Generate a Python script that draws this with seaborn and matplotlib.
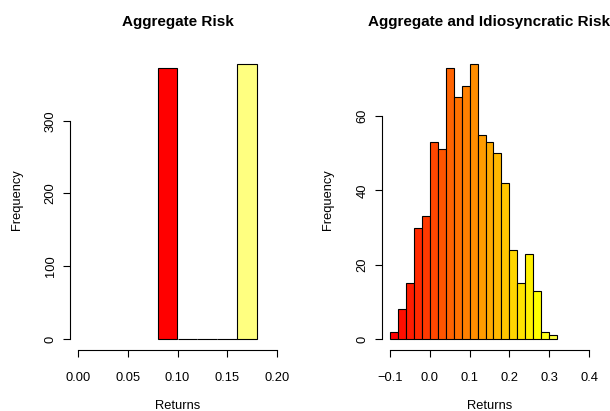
import colorsys
import numpy as np
import matplotlib
matplotlib.use("Agg")
import matplotlib.pyplot as plt
import seaborn as sns

# ---------------- data ----------------
left_edges = [0.08, 0.10, 0.12, 0.14, 0.16, 0.18]
left_counts = [372, 0, 0, 0, 378]
left_xticks = [0.00, 0.05, 0.10, 0.15, 0.20]
left_xticklabels = ["0.00", "0.05", "0.10", "0.15", "0.20"]
left_yticks = [0, 100, 200, 300]
left_title = "Aggregate Risk"

right_edges = [-0.10, -0.08, -0.06, -0.04, -0.02, 0.00, 0.02, 0.04, 0.06, 0.08,
               0.10, 0.12, 0.14, 0.16, 0.18, 0.20, 0.22, 0.24, 0.26, 0.28,
               0.30, 0.32]
right_counts = [2, 8, 15, 30, 33, 53, 51, 73, 65, 68, 74, 55, 53, 50, 42, 24,
                15, 23, 13, 2, 1]
right_xticks = [-0.1, 0.0, 0.1, 0.2, 0.3, 0.4]
right_xticklabels = ["\u22120.1", "0.0", "0.1", "0.2", "0.3", "0.4"]
right_yticks = [0, 20, 40, 60]
right_title = "Aggregate and Idiosyncratic Risk"

xlabel = "Returns"
ylabel = "Frequency"

# ---------------- style ----------------
sns.set_style("white")
plt.rcParams["font.family"] = ["Liberation Sans", "DejaVu Sans"]
plt.rcParams["text.color"] = "black"
plt.rcParams["axes.labelcolor"] = "black"
plt.rcParams["xtick.color"] = "black"
plt.rcParams["ytick.color"] = "black"


def heat_colors(n):
    j = n // 4
    i = n - j
    cols = [colorsys.hsv_to_rgb(h, 1, 1) for h in np.linspace(0, 1 / 6, i)]
    if j > 0:
        for s in np.linspace(1 - 1 / (2 * j), 1 / (2 * j), j):
            cols.append(colorsys.hsv_to_rgb(1 / 6, s, 1))
    return cols


W, H = 610, 411
fig = plt.figure(figsize=(W / 100, H / 100), dpi=100)
FS = 9.3


def draw(ax, edges, counts, colors, xticks, xticklabels, yticks):
    centers = [(a + b) / 2 for a, b in zip(edges[:-1], edges[1:])]
    sns.histplot(x=centers, weights=counts, bins=edges, ax=ax, stat="count",
                 edgecolor="black", linewidth=0.8, alpha=1)
    for p, c in zip(ax.patches, colors):
        p.set_facecolor(c)
    x0, x1 = xticks[0], xticks[-1]
    dx = 0.04 * (x1 - x0)
    ax.set_xlim(x0 - dx, x1 + dx)
    ymax = max(counts)
    dy = 0.04 * ymax
    ax.set_ylim(-dy, ymax + dy)
    ax.set_xticks(xticks)
    ax.set_xticklabels(xticklabels, color="black")
    ax.set_yticks(yticks)
    ax.set_yticklabels([str(v) for v in yticks], rotation=90, va="center",
                       color="black")
    for s in ["top", "right"]:
        ax.spines[s].set_visible(False)
    ax.spines["bottom"].set_bounds(x0, x1)
    ax.spines["left"].set_bounds(yticks[0], yticks[-1])
    for s in ["bottom", "left"]:
        ax.spines[s].set_color("black")
        ax.spines[s].set_linewidth(0.8)
    ax.tick_params(axis="both", direction="out", length=5, width=0.8,
                   color="black", labelcolor="black", labelsize=FS,
                   bottom=True, left=True)
    ax.tick_params(axis="x", pad=10.5)
    ax.tick_params(axis="y", pad=4.5)
    ax.set_xlabel("")
    ax.set_ylabel("")
    ax.grid(False)


ax1 = fig.add_axes([70 / W, 61 / H, 215 / W, 297 / H])
ax2 = fig.add_axes([382 / W, 61 / H, 215 / W, 297 / H])

draw(ax1, left_edges, left_counts, heat_colors(len(left_counts)),
     left_xticks, left_xticklabels, left_yticks)
draw(ax2, right_edges, right_counts, heat_colors(25)[:len(right_counts)],
     right_xticks, right_xticklabels, right_yticks)

# titles and axis labels
fig.text(177.5 / W, 1 - 22 / H, left_title, ha="center", va="center",
         fontsize=11, fontweight="bold", color="black")
fig.text(489.5 / W, 1 - 22 / H, right_title, ha="center", va="center",
         fontsize=11, fontweight="bold", color="black")
fig.text(177.5 / W, 1 - 406 / H, xlabel, ha="center", va="center",
         fontsize=FS, color="black")
fig.text(489.5 / W, 1 - 406 / H, xlabel, ha="center", va="center",
         fontsize=FS, color="black")
fig.text(17 / W, 1 - 200 / H, ylabel, ha="center", va="center", rotation=90,
         fontsize=FS, color="black")
fig.text(328 / W, 1 - 200 / H, ylabel, ha="center", va="center", rotation=90,
         fontsize=FS, color="black")

fig.savefig("out.png", dpi=100)
